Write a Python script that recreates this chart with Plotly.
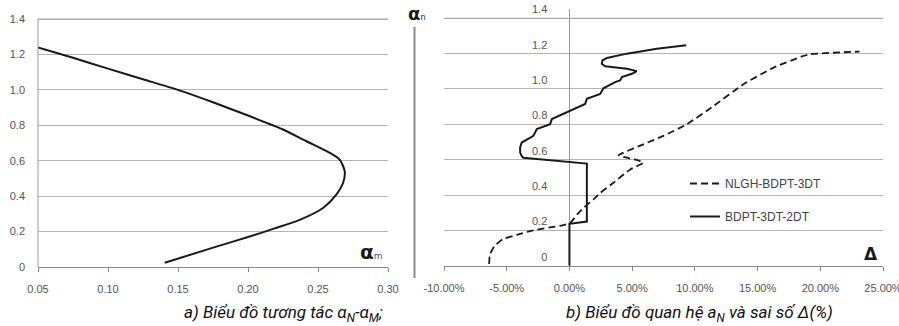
import plotly.graph_objects as go

# ---------------- data ----------------
# (a) interaction diagram alpha_N - alpha_M
am_vals = [0.05, 0.075, 0.10, 0.125, 0.15, 0.175, 0.20, 0.2176, 0.225, 0.2417, 0.2584, 0.2655,
           0.2691, 0.2679, 0.2631, 0.2536, 0.2369, 0.2179, 0.2012, 0.1774, 0.1405]
an_vals = [1.239, 1.181, 1.12, 1.06, 1.00, 0.930, 0.855, 0.80, 0.776, 0.71, 0.644, 0.606,
           0.54, 0.474, 0.408, 0.333, 0.266, 0.215, 0.172, 0.115, 0.024]

# (b) error Delta (%) vs alpha_N
nlgh_delta = [-6.40, -6.35, -6.00, -5.30, -4.20, -2.90, -0.74, 0.06, 0.60, 1.12, 1.90, 2.47, 3.51,
              4.84, 5.90, 5.64, 4.58, 3.91, 4.31, 5.90, 7.50, 9.36, 11.48, 13.88, 16.27, 18.53,
              19.20, 23.13]
nlgh_an = [0.01, 0.06, 0.11, 0.15, 0.175, 0.20, 0.226, 0.241, 0.289, 0.327, 0.374, 0.412, 0.469,
           0.545, 0.583, 0.592, 0.611, 0.625, 0.64, 0.687, 0.735, 0.80, 0.903, 1.027, 1.121, 1.184,
           1.197, 1.212]

bdpt_delta = [0.00, 0.00, 1.39, 1.39, -3.67, -3.80, -3.93, -3.93, -3.80, -3.27, -2.87, -2.60,
              -1.54, -1.40, 0.06, 1.25, 1.39, 2.45, 2.71, 3.64, 4.04, 4.18, 4.98, 5.37, 4.58,
              2.85, 2.58, 2.63, 2.98, 4.58, 6.97, 9.31]
bdpt_an = [0.00, 0.237, 0.25, 0.578, 0.611, 0.62, 0.64, 0.669, 0.697, 0.716, 0.735, 0.773,
           0.801, 0.83, 0.877, 0.915, 0.944, 0.972, 1.004, 1.039, 1.048, 1.067, 1.086, 1.101, 1.114,
           1.128, 1.143, 1.162, 1.175, 1.20, 1.228, 1.247]

series_names = ["NLGH-BDPT-3DT", "BDPT-3DT-2DT"]

y_tickvals = [0, 0.2, 0.4, 0.6, 0.8, 1.0, 1.2, 1.4]
y_ticktext = ["0", "0.2", "0.4", "0.6", "0.8", "1.0", "1.2", "1.4"]
xa_tickvals = [0.05, 0.10, 0.15, 0.20, 0.25, 0.30]
xa_ticktext = ["0.05", "0.10", "0.15", "0.20", "0.25", "0.30"]
xb_tickvals = [-0.10, -0.05, 0.0, 0.05, 0.10, 0.15, 0.20, 0.25]
xb_ticktext = ["-10.00%", "-5.00%", "0.00%", "5.00%", "10.00%", "15.00%", "20.00%", "25.00%"]

caption_a = "<i>a) Biểu đồ tương tác α<sub>N</sub>-α<sub>M</sub>;</i>"
caption_b = "<i>b) Biểu đồ quan hệ a<sub>N</sub> và sai số Δ(%)</i>"

# ---------------- figure ----------------
W, H = 899, 326
def px_x(p):
    return p / W
def px_y(p):
    return 1 - p / H

TICKFONT = dict(family="Liberation Sans, Arial, sans-serif", size=11, color="#555555")
GRID = "#b4b4b4"
INK = "#1a1a1a"
Y_TOP = 1.45  # headroom above the top 1.4 grid
left_bot, left_top14 = 267.0, 19.0
right_bot, right_top14 = 265.7, 18.3
left_top = left_bot - (left_bot - left_top14) * Y_TOP / 1.4
right_top = right_bot - (right_bot - right_top14) * Y_TOP / 1.4

fig = go.Figure()

fig.add_trace(go.Scatter(
    x=am_vals, y=an_vals, mode="lines", xaxis="x", yaxis="y",
    line=dict(color=INK, width=2, shape="spline", smoothing=0.7),
    showlegend=False, hoverinfo="skip"))

fig.add_trace(go.Scatter(
    x=[v / 100 for v in nlgh_delta], y=nlgh_an, mode="lines", xaxis="x2", yaxis="y2",
    name=series_names[0], legendgroup="g1",
    line=dict(color=INK, width=1.8, dash="7px,4px", shape="spline", smoothing=0.4)))

fig.add_trace(go.Scatter(
    x=[v / 100 for v in bdpt_delta], y=bdpt_an, mode="lines", xaxis="x2", yaxis="y2",
    name=series_names[1], legendgroup="g2",
    line=dict(color=INK, width=2)))

fig.update_layout(
    template="none",
    width=W, height=H,
    margin=dict(l=0, r=0, t=0, b=0, autoexpand=False),
    paper_bgcolor="white", plot_bgcolor="rgba(0,0,0,0)",
    font=TICKFONT,
    xaxis=dict(domain=[px_x(38), px_x(388)], range=[0.05, 0.30], anchor="y", automargin=False,
               tickvals=xa_tickvals, ticktext=xa_ticktext, showgrid=False, zeroline=False,
               showline=True, linecolor="#888888", linewidth=1,
               ticks="outside", ticklen=4, tickcolor="#888888",
               ticklabelstandoff=8, tickfont=TICKFONT, ticklabeloverflow="allow"),
    yaxis=dict(domain=[px_y(left_bot), px_y(left_top)], range=[0, Y_TOP], anchor="x",
               automargin=False,
               tickvals=y_tickvals, ticktext=y_ticktext, showgrid=True, gridcolor=GRID,
               gridwidth=1, zeroline=False, showline=False,
               ticks="", ticklabelstandoff=12, tickfont=TICKFONT),
    xaxis2=dict(domain=[px_x(444), px_x(883)], range=[-0.10, 0.25], anchor="y2", automargin=False,
                tickvals=xb_tickvals, ticktext=xb_ticktext, showgrid=False,
                zeroline=True, zerolinecolor="#9a9a9a", zerolinewidth=1,
                showline=True, linecolor="#888888", linewidth=1,
                ticks="outside", ticklen=4, tickcolor="#888888",
                ticklabelstandoff=8, tickfont=TICKFONT, ticklabeloverflow="allow"),
    yaxis2=dict(domain=[px_y(right_bot), px_y(right_top)], range=[0, Y_TOP], anchor="free",
                automargin=False, position=px_x(569.3),
                tickvals=y_tickvals, ticktext=y_ticktext, showgrid=True, gridcolor=GRID,
                gridwidth=1, zeroline=False, showline=False, ticks="",
                ticklabelstandoff=22, ticklabelshift=-9, tickfont=TICKFONT),
    legend=dict(x=px_x(685), y=px_y(169), xanchor="left", yanchor="top",
                bgcolor="rgba(0,0,0,0)", tracegroupgap=14,
                font=dict(family="Liberation Sans, Arial, sans-serif", size=12, color="#444444")),
)

# top (1.4) grid lines
top_grid = y_tickvals[-1]
fig.add_shape(type="line", xref="x domain", yref="y", x0=0, x1=1, y0=top_grid, y1=top_grid,
              line=dict(color="#a8a8a8", width=1.2), layer="above")
fig.add_shape(type="line", xref="x2 domain", yref="y2", x0=0, x1=1, y0=top_grid, y1=top_grid,
              line=dict(color="#a8a8a8", width=1.2), layer="above")

# left panel's vertical axis line (from 0 up to 1.4)
fig.add_shape(type="line", xref="x domain", yref="y", x0=0, x1=0, y0=0, y1=top_grid,
              line=dict(color="#9a9a9a", width=1))

# divider line with alpha_n label
fig.add_shape(type="line", xref="paper", yref="paper",
              x0=px_x(414.5), x1=px_x(414.5), y0=px_y(27), y1=px_y(278),
              line=dict(color="#8a8a8a", width=2))

ann = [
    dict(x=px_x(416), y=px_y(14), text="<b>α</b><span style='font-size:8px'>n</span>",
         font=dict(size=18, color=INK, family="DejaVu Sans, sans-serif")),
    dict(x=px_x(371), y=px_y(252), text="<b>α</b><span style='font-size:9px;color:#555'>m</span>",
         font=dict(size=20, color=INK, family="DejaVu Sans, sans-serif")),
    dict(x=px_x(871), y=px_y(254), text="<b>Δ</b>", font=dict(size=17, color=INK,
         family="DejaVu Sans, sans-serif")),
    dict(x=px_x(283), y=px_y(313), text=caption_a,
         font=dict(size=17, color="#111111", family="Liberation Sans Narrow, Roboto, sans-serif")),
    dict(x=px_x(699), y=px_y(313), text=caption_b,
         font=dict(size=17, color="#111111", family="Liberation Sans Narrow, Roboto, sans-serif")),
]
for a in ann:
    fig.add_annotation(xref="paper", yref="paper", showarrow=False,
                       xanchor="center", yanchor="middle", **a)

fig.write_html("out.html")
